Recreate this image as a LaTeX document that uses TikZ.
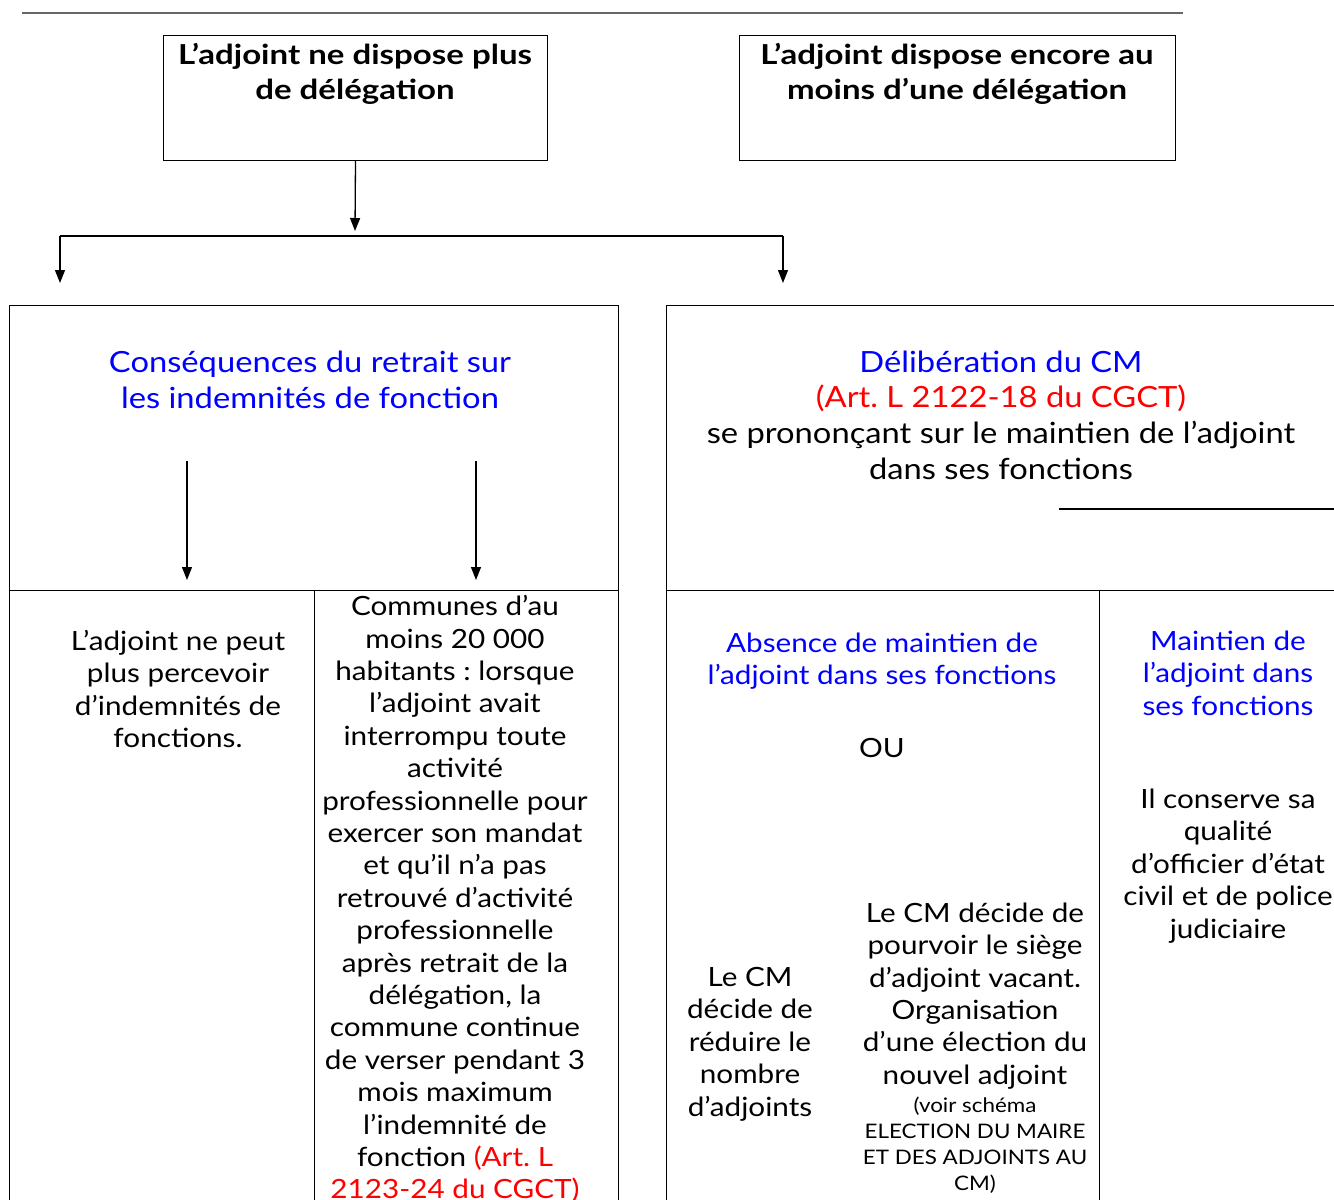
\documentclass[tikz,border=0pt]{standalone}
\usepackage{fontspec}
\setmainfont{Lato}[FakeStretch=1.12]
\newfontfamily\hdfont{Lato}[FakeStretch=1.2]
\usetikzlibrary{arrows.meta}
\definecolor{tblue}{RGB}{0,0,255}
\definecolor{tred}{RGB}{255,0,0}
\frenchspacing
\begin{document}
\begin{tikzpicture}[x=1pt,y=-1pt,
  txt/.style={align=center, font=\fontsize{26.5}{32.4}\selectfont, inner sep=0pt},
  big/.style={align=center, font=\fontsize{29.2}{35.6}\selectfont, inner sep=0pt},
  small/.style={align=center, font=\fontsize{20}{26}\selectfont, inner sep=0pt},
  head/.style={align=center, font=\hdfont\bfseries\fontsize{27.5}{35}\selectfont, inner sep=0pt},
  cell/.style={draw, line width=1pt, inner sep=0pt, anchor=north west},
  arr/.style={-{Triangle[length=13pt,width=10pt]}, line width=1.3pt},
  ln/.style={line width=1.3pt}
]
\useasboundingbox (0,0) rectangle (1334,1200);
\begin{scope}
\clip (0,0) rectangle (1334,1200);
% top rule
\coordinate (r1) at (22,13);
\coordinate (r2) at (1183,13);
\draw[gray!80!black, line width=1.4pt] (r1) -- (r2);
% header boxes
\node[cell, minimum width=384pt, minimum height=125pt] (b1) at (163,35) {};
\node[cell, minimum width=436pt, minimum height=125pt] (b2) at (739,35) {};
\node[head] (b1t) at (355,74) {L’adjoint ne dispose plus\\de délégation};
\node[head] (b2t) at (957,74) {L’adjoint dispose encore au\\moins d’une délégation};
% splitter
\coordinate (s0) at (355,231);
\coordinate (sL) at (60,236);
\coordinate (sR) at (783,236);
\coordinate (tL) at (60,283);
\coordinate (tR) at (783,283);
\draw[arr] (b1.south) -- (s0);
\draw[ln] (sL) -- (sR);
\draw[arr] (sL) -- (tL);
\draw[arr] (sR) -- (tR);
% left block
\node[cell, minimum width=609pt, minimum height=285pt] (ltop) at (9,305) {};
\node[cell, minimum width=305pt, minimum height=640pt] (lc1) at (9,590) {};
\node[cell, minimum width=304pt, minimum height=640pt] (lc2) at (314,590) {};
\node[big, text=tblue] (lt) at (310,380) {Conséquences du retrait sur\\les indemnités de fonction};
\coordinate (a1s) at (187,461);
\coordinate (a1e) at (187,580);
\coordinate (a2s) at (476,461);
\coordinate (a2e) at (476,580);
\draw[arr] (a1s) -- (a1e);
\draw[arr] (a2s) -- (a2e);
\node[txt] (l1t) at (178,689) {L’adjoint ne peut\\plus percevoir\\d’indemnités de\\fonctions.};
\node[txt] (l2t) at (455,899) {Communes d’au\\moins 20 000\\habitants : lorsque\\l’adjoint avait\\interrompu toute\\activité\\professionnelle pour\\exercer son mandat\\et qu’il n’a pas\\retrouvé d’activité\\professionnelle\\après retrait de la\\délégation, la\\commune continue\\de verser pendant 3\\mois maximum\\l’indemnité de\\fonction \textcolor{tred}{(Art. L}\\\textcolor{tred}{2123-24 du CGCT)}};
% right block
\node[cell, minimum width=700pt, minimum height=285pt] (rtop) at (666,305) {};
\node[cell, minimum width=433pt, minimum height=640pt] (rc1) at (666,590) {};
\node[cell, minimum width=267pt, minimum height=640pt] (rc2) at (1099,590) {};
\node[big] (rt) at (1001,415) {\textcolor{tblue}{Délibération du CM}\\\textcolor{tred}{(Art. L 2122-18 du CGCT)}\\se prononçant sur le maintien de l’adjoint\\dans ses fonctions};
\coordinate (h1) at (1059,509);
\coordinate (h2) at (1340,509);
\draw[ln] (h1) -- (h2);
\node[txt, text=tblue] (abs) at (882,661) {Absence de maintien de\\l’adjoint dans ses fonctions};
\node[txt] (ou) at (882,748) {OU};
\node[txt] (red) at (750,1044) {Le CM\\décide de\\réduire le\\nombre\\d’adjoints};
\node[txt] (pv) at (975,996) {Le CM décide de\\pourvoir le siège\\d’adjoint vacant.\\Organisation\\d’une élection du\\nouvel adjoint};
\node[small] (pvs) at (975,1145) {(voir schéma\\ELECTION DU MAIRE\\ET DES ADJOINTS AU\\CM)};
\node[txt, text=tblue] (mt) at (1228,673) {Maintien de\\l’adjoint dans\\ses fonctions};
\node[txt] (cons) at (1228,866) {Il conserve sa\\qualité\\d’officier d’état\\civil et de police\\judiciaire};
\end{scope}
\end{tikzpicture}
\end{document}
